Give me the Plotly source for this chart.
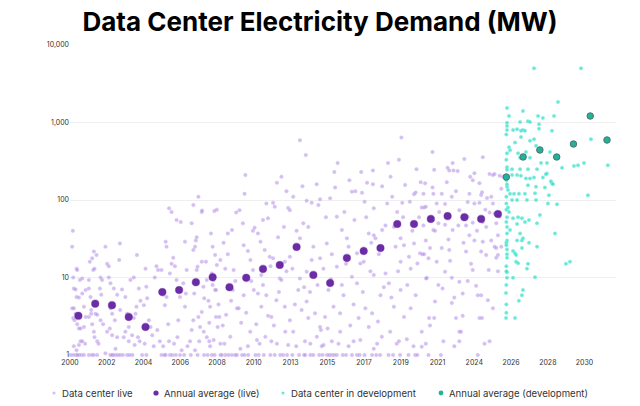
import numpy as np
import pandas as pd
import plotly.graph_objects as go

# --- data -----------------------------------------------------------------
# individual live data centers: decimal year, MW
LIVE_YEAR = [
    2000.13, 2000.17, 2000.19, 2000.39, 2000.43, 2000.23, 2000.33, 2000.39, 2000.53, 2000.13, 2000.23, 2000.33,
    2000.43, 2000.19, 2000.27, 2000.43, 2000.53, 2000.63, 2000.23, 2000.39, 2000.53, 2000.63, 2000.73, 2000.03,
    2000.19, 2000.53, 2000.68, 2000.83, 2000.83, 2000.93, 2000.83, 2000.73, 2000.59, 2000.73, 2000.93,
    2001.12, 2001.12, 2001.22, 2001.26, 2001.32, 2001.42, 2001.46, 2001.62, 2001.38, 2001.46, 2001.18, 2001.32,
    2001.58, 2001.42, 2001.82, 2001.91, 2001.78, 2001.86, 2001.12, 2001.26, 2001.52, 2001.62, 2001.82, 2001.97,
    2001.12, 2001.42, 2001.62,
    2002.11, 2002.21, 2002.31, 2002.31, 2002.41, 2002.61, 2002.41, 2002.51, 2002.67, 2002.21, 2002.37, 2002.51,
    2002.81, 2002.71, 2002.57, 2002.71, 2002.85, 2002.99, 2002.11, 2002.93, 2002.97, 2002.81, 2002.99,
    2003.10, 2003.30, 2003.40, 2003.50, 2003.30, 2003.20, 2003.50, 2003.70, 2003.80, 2003.90, 2003.96, 2003.99,
    2003.60, 2003.80, 2003.72, 2003.40,
    2004.10, 2004.20, 2004.40, 2004.50, 2004.55, 2004.60, 2004.70, 2004.80, 2004.90, 2004.99, 2004.30, 2004.05,
    2004.15,
    2005.05, 2005.15, 2005.25, 2005.45, 2005.55, 2005.65, 2005.75, 2005.85, 2005.95, 2005.90, 2005.20, 2005.35,
    2005.55, 2005.70, 2005.95, 2005.75, 2005.70,
    2006.05, 2006.05, 2006.15, 2006.25, 2006.35, 2006.40, 2006.45, 2006.55, 2006.65, 2006.75, 2006.85, 2006.90,
    2006.35, 2006.60, 2006.85, 2006.95, 2006.10,
    2007.15, 2007.25, 2007.35, 2007.40, 2007.45, 2007.55, 2007.60, 2007.35, 2007.45, 2007.50, 2007.55, 2007.25,
    2007.35, 2007.65, 2007.85, 2007.85, 2007.95, 2007.99, 2007.75, 2007.85, 2007.65, 2007.70, 2007.45, 2007.87,
    2007.97,
    2008.15, 2008.25, 2008.35, 2008.45, 2008.55, 2008.65, 2008.75, 2008.40, 2008.50, 2008.65, 2008.15, 2008.35,
    2008.45, 2008.70, 2008.80, 2008.60, 2008.10, 2008.96, 2008.90, 2008.00, 2008.70, 2008.75, 2008.96, 2008.56,
    2008.96, 2008.30, 2008.85, 2008.50,
    2009.90, 2009.40, 2009.65, 2009.25, 2009.75, 2009.50, 2009.70, 2009.95, 2009.55, 2009.26, 2009.65, 2009.95,
    2009.10, 2009.30, 2009.60, 2009.85, 2009.40, 2009.15,
    2010.10, 2010.30, 2010.35, 2010.75, 2010.90, 2010.05, 2010.35, 2010.95, 2010.74, 2010.15, 2010.25, 2010.45,
    2010.20, 2010.50, 2010.80, 2010.60, 2010.90, 2010.40,
    2011.50, 2011.80, 2011.20, 2011.35, 2011.60, 2011.90, 2011.40, 2011.20, 2011.40, 2011.70, 2011.14, 2011.64,
    2011.24, 2011.94, 2011.10, 2011.80, 2011.50, 2011.95, 2011.00, 2011.70,
    2012.33, 2012.10, 2012.20, 2012.10, 2012.60, 2012.80, 2012.50, 2012.00, 2012.30, 2012.60, 2012.80, 2012.33,
    2012.83, 2012.53, 2012.93, 2012.60, 2012.15, 2012.45, 2012.90, 2012.40, 2012.75, 2012.90,
    2013.00, 2013.10, 2013.10, 2013.70, 2013.90, 2013.70, 2013.10, 2013.30, 2013.60, 2013.80, 2013.48, 2013.70,
    2013.40, 2013.95, 2013.25, 2013.50, 2013.85, 2013.30,
    2014.10, 2014.40, 2014.90, 2014.80, 2014.40, 2014.10, 2014.90, 2014.10, 2014.20, 2014.60, 2014.90, 2014.32,
    2014.71, 2014.02, 2014.32, 2014.05, 2014.30, 2014.75, 2014.50, 2014.20, 2014.70, 2014.95,
    2015.80, 2015.10, 2015.30, 2015.90, 2015.90, 2015.20, 2015.40, 2015.70, 2015.11, 2015.60, 2015.31, 2015.60,
    2015.90, 2015.75, 2015.35, 2015.55, 2015.60, 2015.25, 2015.50, 2015.95,
    2016.80, 2016.20, 2016.50, 2016.60, 2016.80, 2016.10, 2016.30, 2016.70, 2016.10, 2016.60, 2016.80,
    2016.20, 2016.45, 2016.90, 2016.35, 2016.65, 2016.95,
    2017.00, 2017.40, 2017.55, 2017.70, 2017.10, 2017.30, 2017.50, 2017.80, 2017.10, 2017.60, 2017.80, 2017.30,
    2017.10, 2017.20, 2017.45, 2017.90, 2017.65, 2017.35, 2017.95,
    2018.05, 2018.10, 2018.10, 2018.20, 2018.60, 2018.80, 2018.10, 2018.80, 2018.00, 2018.50, 2018.10, 2018.58,
    2018.00, 2018.48, 2018.98, 2018.05, 2018.35, 2018.70, 2018.40, 2018.90, 2018.60, 2018.95,
    2019.20, 2019.97, 2019.80, 2019.30, 2019.50, 2019.70, 2019.90, 2019.70, 2019.00, 2019.30, 2019.70, 2019.90,
    2019.08, 2019.47, 2019.67, 2019.75, 2019.15, 2019.55, 2019.40, 2019.85, 2019.10, 2019.60,
    2020.50, 2020.60, 2020.20, 2020.50, 2020.70, 2020.30, 2020.30, 2020.60, 2020.07, 2020.47, 2020.17, 2020.57,
    2020.96, 2020.86, 2020.96, 2020.96, 2020.10, 2020.40, 2020.80, 2020.25, 2020.65, 2020.90,
    2021.16, 2021.60, 2021.06, 2021.65, 2021.85, 2021.10, 2021.20, 2021.06, 2021.95, 2021.65, 2021.75, 2021.20,
    2021.45, 2021.00, 2021.10, 2021.36, 2021.85, 2021.26, 2021.22, 2021.95, 2021.75, 2021.40, 2021.70, 2021.45,
    2021.36, 2021.60, 2021.70, 2021.50,
    2022.15, 2022.75, 2022.35, 2022.35, 2022.80, 2022.55, 2022.15, 2022.60, 2022.65, 2022.35, 2022.75, 2022.20,
    2022.75, 2022.25, 2022.80, 2022.50, 2022.85, 2022.60, 2022.00, 2022.45, 2022.90,
    2023.80, 2023.20, 2023.70, 2023.14, 2023.60, 2023.80, 2023.60, 2023.20, 2023.70, 2023.40, 2023.00, 2023.40,
    2023.20, 2023.30, 2023.20, 2023.10, 2023.50, 2023.85, 2023.70, 2023.00, 2023.45, 2023.90,
    2024.50, 2024.10, 2024.40, 2024.00, 2024.60, 2024.80, 2024.10, 2024.60, 2024.50, 2024.80, 2024.00, 2024.95,
    2024.20, 2024.30, 2024.50, 2024.90, 2024.40, 2024.55, 2024.30, 2024.60, 2024.10, 2024.40, 2024.55, 2024.85,
    2024.00, 2024.25, 2024.75,
    2025.10, 2025.00, 2025.30, 2025.60, 2025.40, 2025.50, 2025.10, 2025.30, 2025.70, 2025.40, 2025.40, 2025.50,
    2025.20, 2025.00, 2025.00, 2025.30, 2025.60, 2025.80, 2025.20, 2025.20, 2025.70, 2025.50,
    # bottom rows (1 MW and ~1.4 MW)
    2000.35, 2000.45, 2001.30, 2002.40, 2002.50, 2003.15, 2003.55, 2004.55, 2005.45, 2005.62, 2006.30, 2006.55,
    2006.80, 2007.20, 2007.60, 2008.20, 2008.62, 2009.05, 2009.45, 2009.85, 2010.40, 2010.62, 2011.05, 2011.55,
    2012.20, 2012.70, 2013.25, 2013.65, 2013.95, 2014.50, 2014.85, 2015.05, 2015.45, 2015.75, 2016.25, 2016.45,
    2017.25, 2017.55, 2018.25, 2019.25, 2020.70, 2022.10,
    2000.90, 2001.70, 2003.85, 2004.45, 2005.90, 2006.20, 2007.00, 2008.30, 2009.20, 2010.60, 2011.30, 2012.00,
    2013.00, 2014.00, 2015.00, 2016.00, 2016.90, 2018.30, 2019.60, 2021.20, 2022.90, 2024.70,
]
LIVE_MW = [
    25, 40, 10, 13, 12.5, 7.2, 7, 5.6, 5.5, 4, 4, 3.4,
    3.1, 3, 2.8, 2.5, 2.2, 2.2, 1.3, 1.15, 1.35, 1.5, 1.5, 1,
    1, 1, 1, 1, 2.3, 3.1, 4.2, 6.2, 9.3, 9.7, 6.9,
    9.3, 7.2, 5.6, 3.8, 2.5, 2, 1.7, 1.5, 12.5, 13, 16, 17.7,
    19.5, 21.6, 10, 9.3, 7.2, 6, 3.1, 3.4, 3.4, 3.3, 2.8, 2.5,
    1, 1, 1,
    25, 15, 14, 10, 8.4, 7.2, 4, 3.4, 2.8, 2, 2.2, 1.8,
    1.7, 1.2, 1, 1, 1, 1, 1.05, 16.8, 27.5, 6, 3.8,
    7, 5.6, 3.4, 2.3, 2, 1.7, 1.5, 1.8, 3, 3.4, 4.2, 19.5,
    9.3, 10, 1, 1,
    7.2, 5, 4.4, 13, 7.6, 5.4, 2.8, 2.3, 1.8, 1.3, 1, 1.7,
    1.5,
    10, 14, 12.5, 12.5, 6, 4.4, 5.6, 2.5, 11.3, 78, 2.1, 1.5,
    1.3, 1, 1, 25, 29,
    70, 15, 18, 14, 9.3, 1.7, 2.8, 5.6, 1.15, 8.4, 4.2, 6.2,
    55, 52, 29, 12.5, 1,
    1.5, 2.1, 2.8, 6.2, 8.4, 12.5, 13.8, 22.7, 25, 30, 33, 50,
    86, 110, 70, 16, 7.6, 1, 2.3, 3.6, 3.1, 1.5, 1.15, 73,
    2,
    9.3, 5, 4.2, 11.3, 9.3, 6.9, 14.5, 37, 25, 19.5, 1.7, 1.3,
    1, 3.1, 2.3, 72, 16, 16.8, 3.1, 5.4, 6.9, 75, 1.4, 1.56,
    1, 2.6, 4.5, 8,
    69, 37, 41, 13, 12.5, 7.6, 6.9, 4, 1.72, 1, 1, 1,
    2.4, 3.3, 5, 9, 20, 28,
    74, 50, 26, 16.8, 12.5, 4, 5.9, 6.9, 2, 1.2, 1, 210,
    2.6, 3.5, 9, 22, 40, 120,
    55, 58, 37, 29, 22.7, 18.5, 10.8, 6.2, 4.2, 5.9, 1.56, 1.72,
    1, 1, 2.5, 3.2, 8, 14, 44, 90,
    167, 92, 82, 17.7, 15.2, 16, 9.7, 3.1, 5.1, 9.3, 4.2, 1.4,
    2, 1, 1, 200, 2.4, 6.5, 12, 33, 45, 130,
    79, 74, 18.5, 32, 50, 9.7, 2.8, 2, 6.9, 3.8, 1.3, 590,
    4.5, 7.5, 13, 40, 150, 110,
    98, 92, 102, 86, 16.8, 11.9, 17.7, 4.9, 3, 3.45, 2.3, 1.4,
    1.72, 1, 1, 380, 6.5, 8, 25, 45, 160, 2.1,
    145, 13, 27.5, 61, 13.8, 3.1, 6.9, 4.2, 1.35, 1.5, 1, 1,
    1, 230, 2.2, 9.5, 20, 60, 105, 300,
    128, 41, 32, 25, 10.2, 3.45, 5.9, 2.4, 2, 1.3, 1,
    8, 15, 4.5, 70, 180, 55,
    130, 124, 95, 167, 20.5, 15.2, 16, 37, 8.4, 4, 2.3, 1.56,
    1, 3, 6.5, 12, 60, 230, 28,
    160, 78, 35, 32, 41, 47, 10.8, 11.3, 3.45, 5.9, 1.2, 1.72,
    1, 1, 1, 240, 2.7, 7.5, 20, 90, 150, 300,
    110, 156, 92, 45, 70, 32, 26, 16, 8.4, 4.2, 6.9, 3.1,
    2, 1.4, 1, 640, 5.5, 12, 25, 60, 200, 330,
    119, 125, 18.5, 27.5, 15.2, 13, 4, 5.9, 1.6, 1.3, 1, 1,
    80, 20.5, 2, 1.28, 8, 40, 60, 95, 250, 170,
    164, 145, 120, 120, 90, 80, 82, 47, 50, 41, 40, 30,
    24, 20, 20, 17.7, 16, 9.9, 9.7, 8, 4.9, 3, 3, 2.4,
    1, 415, 245, 60,
    120, 110, 89, 48, 41, 31, 24, 22.7, 16.4, 11.9, 9.9, 7.2,
    4.7, 1.5, 300, 260, 240, 240, 70, 170, 5.5,
    120, 74, 61, 47, 47, 35, 21.6, 8.8, 9, 6.2, 3, 3.2,
    2, 2, 1.5, 236, 337, 200, 94, 130, 28, 15,
    116, 90, 92, 51, 52, 45, 30, 29, 21.6, 19.5, 12.5, 12.5,
    7.8, 5.9, 5.9, 5.1, 3, 3, 1, 357, 222, 165, 126, 106,
    180, 40, 75,
    110, 69, 67, 61, 50, 35, 30, 25, 25, 24, 18, 19.5,
    4, 1.5, 216, 216, 205, 200, 210, 90, 140, 12,
    1, 1, 1, 1, 1, 1, 1, 1, 1, 1, 1, 1,
    1, 1, 1, 1, 1, 1, 1, 1, 1, 1, 1, 1,
    1, 1, 1, 1, 1, 1, 1, 1, 1, 1, 1, 1,
    1, 1, 1, 1, 1, 1,
    1.4, 1.4, 1.35, 1.4, 1.5, 1.4, 1.3, 1.5, 1.4, 1.3, 1.4, 1.5,
    1.35, 1.5, 1.3, 1.4, 1.5, 1.4, 1.5, 1.4, 1.3, 1.4,
]

# data centers in development
DEV_YEAR = [
    2027.65, 2030.45, 2029.08, 2026.04, 2026.99, 2026.16, 2027.89, 2028.18, 2028.84, 2026.82, 2027.29, 2027.41,
    2026.04, 2026.99, 2026.64, 2026.40, 2026.87, 2027.11, 2027.95, 2027.95, 2028.72, 2026.04, 2026.87, 2027.65,
    2027.41, 2031.04, 2027.77, 2026.52, 2026.16, 2026.22, 2026.04, 2027.17, 2026.70, 2028.60, 2027.41, 2026.82,
    2028.42, 2028.07, 2030.27, 2030.03, 2030.63, 2032.05, 2029.32, 2027.83, 2027.29, 2026.34, 2026.82, 2026.04,
    2026.04, 2026.34, 2026.64, 2026.87, 2027.17, 2027.65, 2027.41, 2028.18, 2028.42, 2028.72, 2028.78, 2027.29,
    2027.77, 2028.30, 2026.04, 2026.10, 2026.75, 2027.11, 2026.22, 2026.46, 2027.71, 2028.54, 2027.23, 2027.77,
    2026.34, 2026.64, 2030.86, 2028.48, 2029.02, 2026.10, 2026.16, 2026.04, 2026.40, 2026.70, 2026.93, 2027.11,
    2027.35, 2028.00, 2027.83, 2026.04, 2026.64, 2026.22, 2026.04, 2028.90, 2026.82, 2026.04, 2026.64, 2026.93,
    2026.99, 2027.35, 2027.83, 2026.04, 2026.40, 2026.93, 2026.04, 2026.52, 2026.58, 2026.04, 2026.58, 2026.70,
    2027.29, 2027.23, 2029.55, 2029.79, 2027.71, 2026.04, 2026.04, 2026.40, 2026.99, 2026.93, 2026.75, 2025.98,
    2025.98, 2026.52, 2028.36, 2028.66, 2026.00, 2026.00, 2026.00, 2026.00, 2026.00, 2026.00, 2026.00, 2026.00,
    2026.00, 2026.00, 2026.00, 2026.00, 2026.00, 2026.00, 2026.04, 2026.04,
]
DEV_MW = [
    5000, 5000, 1840, 1540, 1410, 1210, 1210, 1140, 1210, 1015, 1040, 1015,
    990, 800, 820, 800, 780, 780, 950, 830, 780, 800, 650, 610,
    580, 610, 500, 550, 480, 440, 400, 415, 400, 415, 350, 350,
    300, 300, 280, 275, 300, 280, 260, 250, 250, 250, 250, 265,
    245, 210, 210, 205, 190, 195, 190, 195, 220, 165, 160, 155,
    148, 145, 148, 135, 120, 120, 120, 120, 122, 115, 100, 100,
    100, 100, 115, 90, 88, 80, 70, 60, 58, 60, 58, 52,
    55, 64, 50, 45, 49, 41, 37, 37, 37, 30, 30, 30,
    32, 28, 25, 23, 22, 24, 20, 20.5, 19.5, 18, 16, 15.3,
    15, 13, 15, 16, 10.1, 11.7, 9.9, 9.9, 6.9, 5.9, 5.0, 6.3,
    3.0, 3.0, 215, 175, 700, 330, 180, 110, 90, 75, 28, 14,
    8, 4.5, 3.5, 12, 26, 52, 900, 160,
]

# annual averages
LIVE_AVG_YEAR = list(range(2000, 2026))
LIVE_AVG_MW = [3.2, 4.6, 4.4, 3.1, 2.3, 6.5, 6.9, 8.7, 10.1, 7.5, 9.9, 12.9, 14.5,
               24.8, 10.8, 8.5, 17.9, 22, 24, 49, 49, 57, 62, 60, 57, 66]
DEV_AVG_YEAR = list(range(2026, 2033))
DEV_AVG_MW = [198, 359, 442, 359, 528, 1213, 594]

Y_TICKS = [1, 10, 100, 1000, 10000]
Y_TICK_LABELS = ["1", "10", "100", "1,000", "10,000"]

LEGEND_LABELS = ["Data center live", "Annual average (live)",
                 "Data center in development", "Annual average (development)"]

COLORS = {
    "live": "rgba(170,128,226,0.5)",
    "live_edge": "rgba(210,188,242,0.55)",
    "live_avg": "#6b2ca6",
    "dev": "rgba(45,222,202,0.72)",
    "dev_edge": "rgba(140,238,225,0.55)",
    "dev_avg": "#1fb39b",
}
FONT = "Inter, Roboto, Arial, sans-serif"


def to_dates(years, mid=False):
    years = np.asarray(years, dtype=float) + (0.5 if mid else 0.0)
    whole = np.floor(years).astype(int)
    start = pd.to_datetime([f"{y}-01-01" for y in whole])
    return start + pd.to_timedelta((years - whole) * 365.25, unit="D")


fig = go.Figure()

fig.add_trace(go.Scatter(
    x=to_dates(LIVE_YEAR), y=LIVE_MW, mode="markers", name=LEGEND_LABELS[0], cliponaxis=False,
    marker=dict(size=3.5, color=COLORS["live"], line=dict(width=0.8, color=COLORS["live_edge"])),
))
fig.add_trace(go.Scatter(
    x=to_dates(DEV_YEAR), y=DEV_MW, mode="markers", name=LEGEND_LABELS[2], cliponaxis=False,
    marker=dict(size=3.5, color=COLORS["dev"], line=dict(width=0.8, color=COLORS["dev_edge"])),
))
fig.add_trace(go.Scatter(
    x=to_dates(LIVE_AVG_YEAR, mid=True), y=LIVE_AVG_MW, mode="markers", name=LEGEND_LABELS[1],
    marker=dict(size=7.5, color=COLORS["live_avg"], line=dict(width=1.2, color="rgba(107,44,166,0.35)")),
))
fig.add_trace(go.Scatter(
    x=to_dates(DEV_AVG_YEAR), y=DEV_AVG_MW, mode="markers", name=LEGEND_LABELS[3],
    marker=dict(size=6.5, color=COLORS["dev_avg"], line=dict(width=1, color="#55706c")),
))

# hand-placed legend (pixel offsets from the plot's bottom-left corner)
legend_items = [
    (LEGEND_LABELS[0], -16, 1.6, COLORS["live"]),
    (LEGEND_LABELS[1], 86, 2.6, COLORS["live_avg"]),
    (LEGEND_LABELS[2], 213, 1.5, COLORS["dev"]),
    (LEGEND_LABELS[3], 371, 2.4, COLORS["dev_avg"]),
]
for label, dx, r, col in legend_items:
    fig.add_shape(type="circle", xref="paper", yref="paper",
                  xsizemode="pixel", ysizemode="pixel", xanchor=0, yanchor=0,
                  x0=dx - r, x1=dx + r, y0=-38 - r, y1=-38 + r,
                  fillcolor=col, line_width=0)
    fig.add_annotation(text=label, xref="paper", yref="paper", x=0, y=0,
                       xshift=dx + 6, yshift=-38, xanchor="left", yanchor="middle",
                       showarrow=False, font=dict(size=9.6, color="#333", family=FONT))

fig.update_xaxes(
    type="date", range=["2000-01-01", "2032-07-15"],
    tick0="2000-01-01", dtick=800 * 86400000, tickformat="%Y",
    showgrid=False, zeroline=False, showline=False, ticks="",
    ticklabelstandoff=2,
    tickfont=dict(size=7, color="#333", family=FONT),
)
fig.update_yaxes(
    type="log", range=[0, 4], tickvals=Y_TICKS, ticktext=Y_TICK_LABELS,
    gridcolor="#efefef", gridwidth=1, zeroline=False, showline=False, ticks="",
    tickfont=dict(size=7, color="#333", family=FONT),
)

fig.update_layout(
    width=640, height=406,
    title=dict(text="<b>Data Center Electricity Demand (MW)</b>", x=0.5, xanchor="center",
               y=0.945, yanchor="middle",
               font=dict(size=26, color="#000", family=FONT)),
    showlegend=False,
    margin=dict(l=70, r=24, t=45, b=51),
    plot_bgcolor="white", paper_bgcolor="white",
)

# the page's default 8px body margin would shift the whole chart
fig.write_html("out.html", config={"displayModeBar": False},
               post_script="document.body.style.margin='0';")
